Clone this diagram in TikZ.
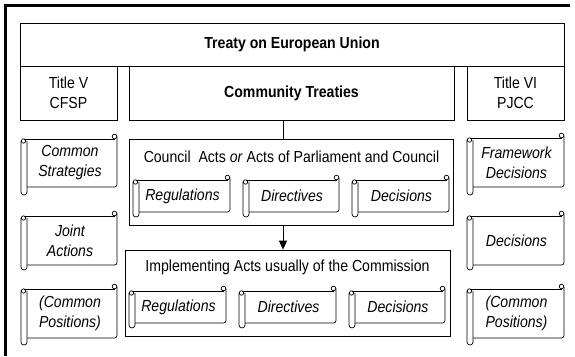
\documentclass[tikz,border=0pt]{standalone}
\usepackage{fontspec}
\setmainfont{Liberation Sans}[FakeStretch=0.88]
\usetikzlibrary{arrows.meta}

\tikzset{
  box/.style={draw, line width=0.8, inner sep=0, align=center},
  scrollline/.style={line width=0.7, line join=round},
  scrolltext/.style={font=\itshape, align=center, inner sep=0},
}

% scroll: name, tube left, right edge, top, body bottom, tube bottom, text
\newcommand{\scrollnote}[7]{%
  \draw[scrollline,rounded corners=2.5] ({#2+6},#5) -- (#3,#5) -- (#3,{#4-2.5});
  \draw[scrollline] ({#2+3},#4) -- ({#3-2.5},#4);
  \draw[scrollline] ({#3-2.5},{#4-2.5}) circle (2.3);
  \draw[scrollline] ({#2+6},{#4+2}) -- ({#2+6},{#6-3})
    arc[start angle=0,end angle=180,radius=3] -- (#2,{#4+2});
  \draw[scrollline] ({#2+2.5},{#4+2}) circle (2.2);
  \node[scrolltext] (#1) at ({(#2+#3)/2+1},{(#4+#5)/2}) {#7};
}

\begin{document}
\fontsize{16}{20}\selectfont
\begin{tikzpicture}[x=1pt,y=-1pt]
\useasboundingbox (0,0) rectangle (575,356);
% Frame
\draw[line width=3] (5,356) -- (5,5) -- (570,5);

% Treaty and the three pillars
\node[box, minimum width=544, minimum height=43, font=\bfseries] (treaty) at (292,44.5) {Treaty on European Union};
\node[box, minimum width=97, minimum height=54] (cfsp) at (68.5,93) {Title V\\CFSP};
\node[box, minimum width=325, minimum height=54, font=\bfseries] (ct) at (291.5,93) {Community Treaties};
\node[box, minimum width=97, minimum height=54] (pjcc) at (515.5,93) {Title VI\\PJCC};

% Acts boxes
\node[box, minimum width=324, minimum height=86] (council) at (291,182) {};
\node (councilhead) at (291.5,157) {Council~ Acts \emph{or} Acts of Parliament and Council};
\node[box, minimum width=325, minimum height=86] (impl) at (287.5,293) {};
\node (implhead) at (287.5,267) {Implementing Acts usually of the Commission};

\coordinate (spine) at (283,0);
\draw[line width=0.8] (ct.south -| spine) -- (council.north -| spine);
\draw[line width=0.8,-{Triangle[length=9,width=8]}] (council.south -| spine) -- (impl.north -| spine);

% Instruments of Title V
\foreach \nm/\yt/\yb/\ye/\txt in {strat/139/187/195/{Common\\Strategies},
    joint/216/265/270/{Joint\\Actions}, cposv/289/338/345/{(Common\\Positions)}} {
  \scrollnote{\nm}{21}{117}{\yt}{\yb}{\ye}{\txt}
}
% Instruments of Title VI
\foreach \nm/\yt/\yb/\ye/\txt in {frame/138/187/195/{Framework\\Decisions},
    decvi/216/265/270/{Decisions}, cposvi/289/338/345/{(Common\\Positions)}} {
  \scrollnote{\nm}{467}{564}{\yt}{\yb}{\ye}{\txt}
}
% Community instruments
\foreach \nm/\xl/\xr/\txt in {creg/133/230/Regulations, cdir/243/339/Directives, cdec/352/449/Decisions} {
  \scrollnote{\nm}{\xl}{\xr}{180}{212}{217}{\txt}
}
\foreach \nm/\xl/\xr/\txt in {ireg/129/226/Regulations, idir/239/336/Directives, idec/349/445/Decisions} {
  \scrollnote{\nm}{\xl}{\xr}{291}{323}{328}{\txt}
}
\end{tikzpicture}
\end{document}
